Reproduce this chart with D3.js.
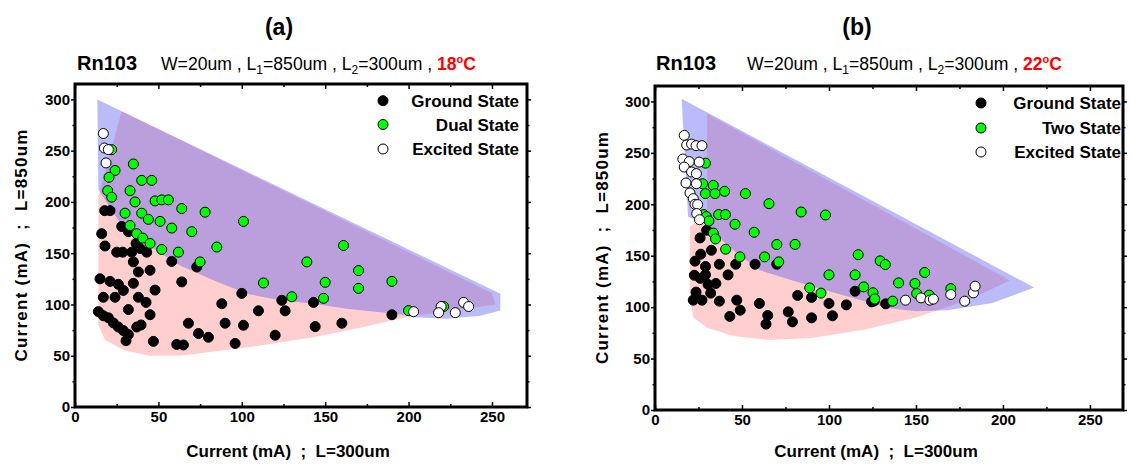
<!DOCTYPE html>
<html><head><meta charset="utf-8">
<script src="https://cdn.jsdelivr.net/npm/d3@7"></script>
<style>body{margin:0;background:#fff} text{font-family:Arial,"Liberation Sans",sans-serif}</style>
</head><body><svg id="c" width="1131" height="468"></svg>
<script>
// ---------- data ----------
const xMajorTicks = [0,50,100,150,200,250];
const xMinorTicks = [25,75,125,175,225];
const yMajorTicks = [0,50,100,150,200,250,300];
const yMinorTicks = [25,75,125,175,225,275];
const panelLetters = ["(a)","(b)"];
const temps = ["18","22"];
const legendA = ["Ground State","Dual State","Excited State"];
const legendB = ["Ground State","Two State","Excited State"];
const xTitle = "Current (mA)  ;  L=300um";
const yTitle = "Current (mA)  ;  L=850um";

const groundA = [[17.8,191.5],[21,191.5],[16,169],[28,176],[32,171],[18,157],[25,151],[28.6,151],[34,151],[36.6,159.5],[39,154.6],[43,151],[35,141.5],[58,142],[73,136.6],[38,131.7],[45,133.3],[15,125],
 [64,122],[100,110.8],[88,100.7],[124,104],[126,93.8],[110,93.8],[143,102],[190,90],[68,81.7],[90,81.7],[101,79.7],[74,71.6],[80,68],[96,62],[120,70],[144,78.4],[160,81.7],[65,60.5],
 [21,122.5],[26,119.6],[29,113.7],[17,107],[24,107],[14,93],[20,87],[23,82],[26,78],[29,74.5],[32,70.6],[37,78],[38,107],[42.6,102],[45,90],[32,95],[39.6,80],[30.6,64.7],[47,64],[61,61],[35,120.6],[48,114],[17,89]];
const dualA = [[22,251],[35,237],[24,230.7],[20.4,224],[40,221],[46,221],[19.6,211],[33,211],[22,204.6],[36,200],[48,201],[52,202],[56,202],[64,193.5],[78,190],[30,189],[40,189],[44,183],[33,177],[51,181],[58,174.5],[101,181],[70,171],[37,169],[40.6,164.7],[45,159.5],[85,156],[52,153.6],[62,151],[75,141.5],[139,141.5],[113,121],[161,157.5],[170,133],[150,121.6],[170,115.7],[190,122.5],[130,107.5],[149,106],[200,94],[221,98]];
const excitedA = [[17,266.7],[17.6,252.6],[20,251],[18.6,238],[203,93],[219.5,98],[218,92],[228,92],[233,102],[236,98]];

const groundB = [[25.9,167.3],[29.7,174.8],[32.4,155.3],[26.3,151.5],[23,144.7],[29,139.5],[37,141.7],[46.4,141.7],[57.5,141.7],[70,141.7],[22.6,131],[29,131.4],[42,131.4],
 [82,111.4],[90,109.4],[100,103.6],[110,102.2],[115,115.5],[124.5,105.1],[132.6,103.2],[76.6,95.4],[64.8,91.9],[63.8,83.5],[79,85.7],[90,89.6],[102,91.6],[60,103.6],[126,106],
 [23.6,114.6],[27,106.8],[32,113.6],[37,105.8],[47,106.8],[22,106.8],[30.5,122],[26,128],[35,123],[43,91],[49,97]];
const twoB = [[29,240],[27.4,220],[33.5,218.4],[29,210.4],[34.5,210.4],[40,212.6],[52,210.4],[65.5,200.6],[84,192.5],[98,189.6],[28,190],[29.5,188],[31,183.8],[36.6,190],[40.5,190],[46,180.6],[57,172.8],[33.5,172],[34.8,166.3],[70,160.9],[80.5,161],[40.6,156.3],[48.8,148.9],[63,148.9],[71.1,144],[116.8,151],[129.4,145],[132.4,141.4],[100,131.4],[115,131.4],
 [155,133.7],[88.9,118.7],[95.4,113.6],[120,119.7],[125.3,114],[126.3,108],[136.6,105.8],[140,123.6],[149.4,123],[150.4,113.3],[157.6,111.7],[170,118]];
const excitedB = [[16.8,267],[18.2,257.6],[21,258.5],[23.6,257],[27,257],[16,244],[19.7,241.5],[25.4,241],[16.8,236.2],[21,231.4],[23.8,229.8],[17.8,220.7],[23.8,220],[20.1,211],[22,205.5],[23,200],[24.5,199.7],[24,191],[25.6,185],
 [144,106.8],[152.9,109],[158,106.8],[160,107.8],[170,112.3],[178,105.8],[183,113.9],[184,120.4]];

// shaded regions
const blueZoneA = [[13.4,300],[255,110.5],[255,94],[243,89],[223,86],[203,87.5],[193,91],[183,92.5],[163,95.8],[143,100.7],[123,104],[103,110.5],[83,123.5],[63,138],[30,172],[14,212]];
const redZoneA = [[28,288.5],[250,111],[252,100],[230,95],[200,88],[173,78],[143,68],[103,58],[63,50],[45,50],[30,55],[18,65],[14,80],[14,205]];
const blueZoneB = [[15.3,302.6],[218,119],[194,104],[168,97],[150,96],[135,99],[118,107],[99,116],[79,126],[60,136],[43,158],[28,182],[19,188]];
const redZoneB = [[30,288],[204,126],[180,107],[150,90],[120,78],[90,70],[65,68],[45,72],[30,80],[22,90],[20,110],[20,178],[30,190]];

// ---------- drawing ----------
const svg = d3.select("#c");

const panels = [
 {L:75,R:527,T:84,B:407,xmax:271,letterX:279,rnX:77,wX:161,xTitleX:288,yTitleX:27,
  legX:383,legTX:519,legY:[100.7,124.5,149],legend:legendA,temp:temps[0],letter:panelLetters[0],
  ground:groundA,mid:dualA,exc:excitedA,blue:blueZoneA,red:redZoneA},
 {L:655,R:1123,T:86,B:410,xmax:269,letterX:857,rnX:656,wX:747,xTitleX:876,yTitleX:608,
  legX:981,legTX:1121,legY:[103,128,152],legend:legendB,temp:temps[1],letter:panelLetters[1],
  ground:groundB,mid:twoB,exc:excitedB,blue:blueZoneB,red:redZoneB}
];

panels.forEach(p=>{
  const x = d3.scaleLinear().domain([0,p.xmax]).range([p.L,p.R]);
  const y = d3.scaleLinear().domain([0,315]).range([p.B,p.T]);
  const g = svg.append("g");
  const line = d3.line().x(d=>x(d[0])).y(d=>y(d[1])).curve(d3.curveLinearClosed);
  g.append("path").attr("d",line(p.red)).attr("fill","rgb(255,105,105)").attr("fill-opacity",0.32);
  g.append("path").attr("d",line(p.blue)).attr("fill","rgb(85,85,240)").attr("fill-opacity",0.4);

  // axes
  const fmt = d3.format("d");
  g.append("g").attr("transform",`translate(0,${p.B})`)
    .call(d3.axisBottom(x).tickValues(xMajorTicks).tickSize(-5).tickPadding(4).tickFormat(fmt));
  g.append("g").attr("transform",`translate(0,${p.B})`).call(d3.axisBottom(x).tickValues(xMinorTicks).tickSize(-3).tickFormat(""));
  g.append("g").attr("transform",`translate(0,${p.T})`).call(d3.axisTop(x).tickValues(xMajorTicks).tickSize(-5).tickFormat(""));
  g.append("g").attr("transform",`translate(0,${p.T})`).call(d3.axisTop(x).tickValues(xMinorTicks).tickSize(-3).tickFormat(""));
  g.append("g").attr("transform",`translate(${p.L},0)`)
    .call(d3.axisLeft(y).tickValues(yMajorTicks).tickSize(4).tickPadding(1).tickFormat(fmt));
  g.append("g").attr("transform",`translate(${p.L},0)`).call(d3.axisLeft(y).tickValues(yMinorTicks).tickSize(2.5).tickFormat(""));
  g.append("g").attr("transform",`translate(${p.R},0)`).call(d3.axisRight(y).tickValues(yMajorTicks).tickSize(4).tickFormat(""));
  g.append("g").attr("transform",`translate(${p.R},0)`).call(d3.axisRight(y).tickValues(yMinorTicks).tickSize(2.5).tickFormat(""));
  g.selectAll(".domain").remove();
  g.selectAll(".tick line").attr("stroke","#000").attr("stroke-width",1.5);
  g.selectAll(".tick text").attr("font-size",15).attr("font-weight","bold").attr("fill","#000").attr("font-family","Arial, 'Liberation Sans', sans-serif");
  g.append("rect").attr("x",p.L).attr("y",p.T).attr("width",p.R-p.L).attr("height",p.B-p.T)
    .attr("fill","none").attr("stroke","#000").attr("stroke-width",3);

  // points
  const drawPts = (arr, fill)=> g.append("g").selectAll("circle").data(arr).join("circle")
    .attr("cx",d=>x(d[0])).attr("cy",d=>y(d[1])).attr("r",5).attr("fill",fill).attr("stroke","#000").attr("stroke-width",1);
  drawPts(p.ground,"#000");
  drawPts(p.mid,"#00ff00");
  drawPts(p.exc,"#ffffff");

  // legend
  const fills = ["#000","#00ff00","#fff"];
  p.legend.forEach((t,i)=>{
    g.append("circle").attr("cx",p.legX).attr("cy",p.legY[i]).attr("r",5).attr("fill",fills[i]).attr("stroke","#000");
    g.append("text").attr("x",p.legTX).attr("y",p.legY[i]).attr("dy","0.36em").attr("text-anchor","end")
      .attr("font-size",17).attr("font-weight","bold").text(t);
  });

  // titles
  svg.append("text").attr("x",p.letterX).attr("y",35).attr("text-anchor","middle").attr("font-size",23).attr("font-weight","bold").text(p.letter);
  const tt = svg.append("text").attr("x",p.rnX).attr("y",70).attr("xml:space","preserve");
  tt.append("tspan").attr("font-size",20).attr("font-weight","bold").text("Rn103");
  tt.append("tspan").attr("x",p.wX).attr("font-size",17.6).text("W=20um , L");
  tt.append("tspan").attr("font-size",12).attr("dy",4).text("1");
  tt.append("tspan").attr("font-size",17.6).attr("dy",-4).text("=850um , L");
  tt.append("tspan").attr("font-size",12).attr("dy",4).text("2");
  tt.append("tspan").attr("font-size",17.6).attr("dy",-4).text("=300um , ");
  tt.append("tspan").attr("font-size",17.6).attr("font-weight","bold").attr("fill","#ff0000").text(p.temp);
  tt.append("tspan").attr("font-size",11).attr("font-weight","bold").attr("fill","#ff0000").attr("dy",-7).text("o");
  tt.append("tspan").attr("font-size",17.6).attr("font-weight","bold").attr("fill","#ff0000").attr("dy",7).text("C");

  svg.append("text").attr("x",p.xTitleX).attr("y",457).attr("text-anchor","middle").attr("font-size",17).attr("font-weight","bold")
    .attr("xml:space","preserve").text(xTitle);
  svg.append("text").attr("transform",`translate(${p.yTitleX},${(p.T+p.B)/2}) rotate(-90)`).attr("text-anchor","middle")
    .attr("font-size",17).attr("font-weight","bold").attr("xml:space","preserve")
    .attr("textLength",232).attr("lengthAdjust","spacing").text(yTitle);
});
</script></body></html>
